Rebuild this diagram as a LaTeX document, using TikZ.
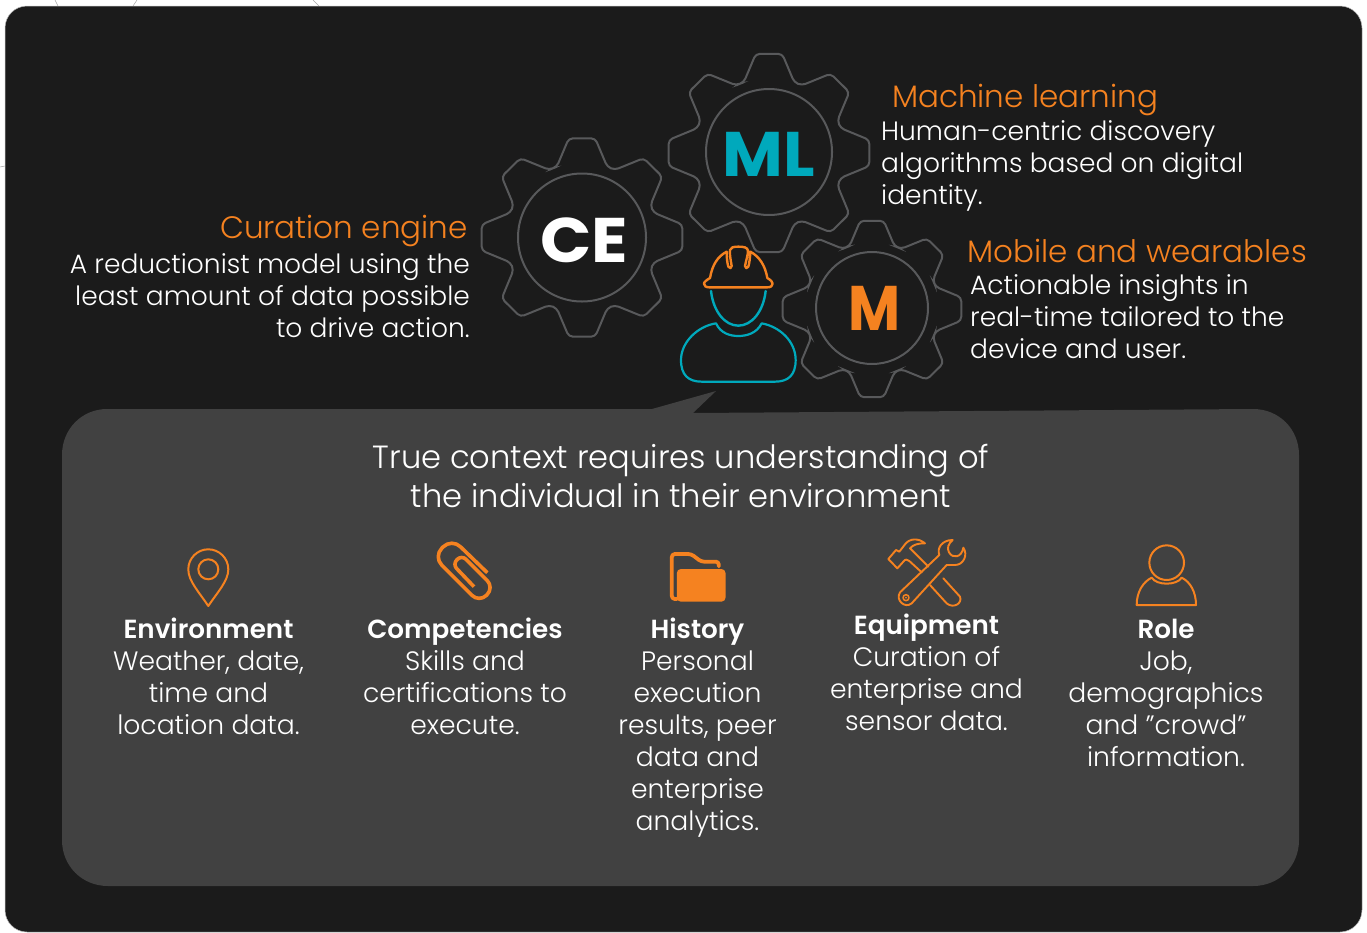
\documentclass[tikz,border=0pt]{standalone}
\usepackage{fontspec}
\setmainfont{Poppins Light}[BoldFont={Poppins SemiBold}]
\newfontfamily\bigfont{Poppins Bold}
\definecolor{bgdark}{HTML}{1B1B1B}
\definecolor{panelgrey}{HTML}{414141}
\definecolor{gearline}{HTML}{58595B}
\definecolor{accent}{HTML}{F58220}
\definecolor{teal}{HTML}{00A9BC}
\newcommand{\gearshape}[4]{%
  \draw[gearstyle,shift={(#1,#2)},scale=#3,xscale=1.012,rounded corners=#4]
    (-112.5:75)
    \foreach \a in {-90,-45,...,225}{
      -- (\a-19.4:75) -- (\a-7.5:100) -- (\a+7.5:100) -- (\a+19.4:75)
    } -- cycle;
}
\newcommand{\boldlabel}[1]{{\fontsize{26.2}{32}\selectfont\textbf{#1}}}
\tikzset{
  x=1pt,y=-1pt,
  gearstyle/.style={draw=gearline,line width=2pt},
  ring/.style={draw=gearline,line width=2pt,circle,inner sep=0pt},
  head/.style={text=accent,font=\fontsize{31}{36}\selectfont,inner sep=0pt,anchor=base west},
  body/.style={text=white,font=\fontsize{26.5}{32}\selectfont,inner sep=0pt},
  item/.style={text=white,font=\fontsize{26.6}{32}\selectfont,inner sep=0pt,align=center,anchor=base},
  orangeline/.style={draw=accent,line width=2pt,line join=round,line cap=round},
  tealline/.style={draw=teal,line width=2.2pt,line join=round,line cap=round},
  biglabel/.style={font=\fontsize{63}{63}\bigfont,inner sep=0pt},
  strayline/.style={draw=gray!70,line width=0.5pt},
}
\begin{document}
\begin{tikzpicture}
\useasboundingbox (0,0) rectangle (1367,932);
\fill[white] (0,0) rectangle (1367,932);
% stray lines above card
\draw[strayline] (55,0) -- (58,6);
\draw[strayline] (137,0) -- (133,6);
\draw[strayline] (313,0) -- (319,6);
\draw[strayline] (0,167) -- (5,166);
% card
\draw[fill=bgdark,draw=gray!50,line width=0.5pt,rounded corners=22] (5,6) -- (1362,6) -- (1362,932) -- (5,932) -- cycle;
% panel
\fill[panelgrey] (107,409) -- (652,409) -- (716,391) -- (693,413) -- (1253,409)
  .. controls (1279,409) and (1299,429) .. (1299,455) -- (1299,840)
  .. controls (1299,866) and (1279,886) .. (1253,886) -- (108,886)
  .. controls (82,886) and (62,866) .. (62,840) -- (62,455)
  .. controls (62,429) and (82,409) .. (107,409) -- cycle;
% gears
\gearshape{582}{237.5}{1}{4}
\gearshape{769}{153}{1}{4}
\gearshape{872}{309}{0.89}{4}
\node[ring,minimum size=128pt] (cering) at (582,237.5) {};
\node[ring,minimum size=126pt] (mlring) at (769,152) {};
\node[ring,minimum size=112pt] (mring) at (872,308) {};
\node[biglabel,text=white] (ce) at (584,240) {\scalebox{1.07}[1]{CE}};
\node[biglabel,text=teal] (ml) at (769,154) {\scalebox{1.05}[1]{ML}};
\node[biglabel,text=accent] (m) at (874.5,308) {\scalebox{0.9}[1]{M}};
% worker
\begin{scope}[shift={(480,40)},scale=1/3]
\draw[orangeline,line width=2.4pt] (690,714) .. controls (697,675) and (712,650) .. (740,635)
  .. controls (740,655) and (742,670) .. (745,680) .. controls (748,686) and (756,686) .. (755,678)
  .. controls (752,660) and (748,640) .. (750,630) .. controls (752,622) and (760,620) .. (775,620)
  .. controls (792,620) and (802,622) .. (804,632) .. controls (804,645) and (798,662) .. (795,678)
  .. controls (794,686) and (803,686) .. (805,680) .. controls (808,670) and (810,655) .. (811,635)
  .. controls (838,650) and (855,675) .. (862,714)
  .. controls (872,720) and (878,726) .. (878,731) .. controls (878,738) and (872,742) .. (862,742)
  -- (688,742) .. controls (678,742) and (672,738) .. (672,731) .. controls (672,726) and (680,720) .. (690,714) -- cycle;
\draw[tealline,line width=2.4pt] (693,753) .. controls (700,815) and (735,857) .. (775,857) .. controls (815,857) and (850,815) .. (857,753);
\draw[tealline] (708,850) .. controls (722,880) and (750,888) .. (775,888) .. controls (800,888) and (830,880) .. (845,850)
  .. controls (900,860) and (947,905) .. (947,960) .. controls (947,1005) and (925,1025) .. (885,1025)
  -- (665,1025) .. controls (625,1025) and (603,1005) .. (603,960) .. controls (603,905) and (655,858) .. (708,850) -- cycle;
\end{scope}
% gear texts
\node[head,anchor=base east] (h1) at (468,238) {Curation engine};
\node[body,align=right,anchor=base east] (b1) at (470,337) {A reductionist model using the\\least amount of data possible\\to drive action.};
\node[head] (h2) at (892,107) {Machine learning};
\node[body,align=left,anchor=base west] (b2) at (881,204) {Human-centric discovery\\algorithms based on digital\\identity.};
\node[head] (h3) at (967,262) {Mobile and wearables};
\node[body,align=left,anchor=base west] (b3) at (970,358) {Actionable insights in\\real-time tailored to the\\device and user.};
% panel title
\node[text=white,font=\fontsize{32.1}{39}\selectfont,align=center,inner sep=0pt,anchor=base] (title) at (681,507) {True context requires understanding of\\the individual in their environment};
% items
\node[item] (i1) at (208.5,734) {\boldlabel{Environment}\\Weather, date,\\time and\\location data.};
\node[item] (i2) at (465,734) {\boldlabel{Competencies}\\Skills and\\certifications to\\execute.};
\node[item] (i3) at (697.5,830) {\boldlabel{History}\\Personal\\execution\\results, peer\\data and\\enterprise\\analytics.};
\node[item] (i4) at (926.5,730) {\boldlabel{Equipment}\\Curation of\\enterprise and\\sensor data.};
\node[item] (i5) at (1166,766) {\boldlabel{Role}\\Job,\\demographics\\and "crowd"\\information.};
% pin
\draw[orangeline] (208.3,606) .. controls (199,592) and (188.3,581) .. (188.3,569.3) .. controls (188.3,558.3) and (197.3,549.3) .. (208.3,549.3) .. controls (219.3,549.3) and (228.3,558.3) .. (228.3,569.3) .. controls (228.3,581) and (217.6,592) .. (208.3,606) -- cycle;
\draw[orangeline] (208.3,569.3) circle[radius=10];
% paperclip
\draw[orangeline,line width=3.6pt,line cap=butt,rounded corners=12pt] (487.3,572.7) -- (451.7,538.3) -- (433.3,556.7) [rounded corners=10pt] -- (479.2,602.5) -- (494.2,587.5) [rounded corners=6pt] -- (461.7,555) -- (452.5,564.2) -- (474,586.7);
% folder
\begin{scope}[shift={(659.5,545)},scale=1/3]
\draw[orangeline,line width=3.8pt,rounded corners=3pt] (52,162) -- (37,162) -- (37,27) -- (95,27) -- (125,50) -- (178,50) -- (178,64);
\fill[accent,rounded corners=4pt] (52,72) rectangle (198,170);
\end{scope}
% tools
\begin{scope}[shift={(880,535)},scale=1/3]
\draw[orangeline,line width=1.9pt] (178,60) .. controls (170,40) and (185,15) .. (218,15) .. controls (205,25) and (200,40) .. (207,52) .. controls (218,72) and (245,68) .. (250,38)
  .. controls (265,60) and (250,90) .. (225,90) -- (200,90) -- (95,205) .. controls (75,222) and (45,195) .. (60,172) -- cycle;
\draw[orangeline,line width=1.5pt] (78,188) circle[radius=9];
\fill[accent] (78,188) circle[radius=3];
\draw[orangeline,line width=1.9pt] (145,95) -- (90,40) .. controls (100,28) and (115,25) .. (135,25) .. controls (115,8) and (88,10) .. (75,28) -- (58,50) -- (48,45) -- (25,72) -- (52,100) -- (70,80) .. controls (75,72) and (82,72) .. (88,78) -- (125,112);
\draw[orangeline,line width=1.9pt] (190,130) -- (240,185) .. controls (248,205) and (220,222) .. (200,205) -- (150,150);
\end{scope}
% role
\begin{scope}[shift={(1125,540)},scale=1/3]
\draw[orangeline] (125,68) circle[radius=52];
\draw[orangeline] (80,113) .. controls (95,137) and (155,137) .. (170,113) .. controls (195,125) and (213,155) .. (213,195) -- (35,195) .. controls (35,155) and (55,125) .. (80,113) -- cycle;
\end{scope}
\end{tikzpicture}
\end{document}
